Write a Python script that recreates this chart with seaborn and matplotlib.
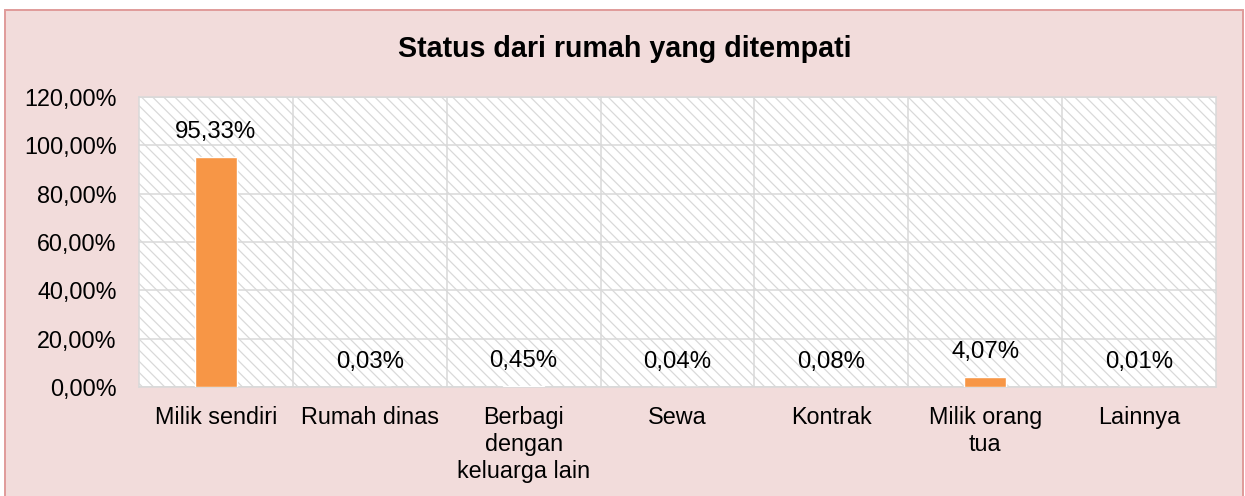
import matplotlib
matplotlib.use("Agg")
import matplotlib.pyplot as plt
import seaborn as sns
import pandas as pd
from matplotlib.patches import Rectangle

categories = ["Milik sendiri", "Rumah dinas", "Berbagi\ndengan\nkeluarga lain",
              "Sewa", "Kontrak", "Milik orang\ntua", "Lainnya"]
values = [95.33, 0.03, 0.45, 0.04, 0.08, 4.07, 0.01]  # percent
yticks = [0, 20, 40, 60, 80, 100, 120]
title = "Status dari rumah yang ditempati"

sns.set_theme(style="white")
plt.rcParams['font.family'] = ['Liberation Sans', 'DejaVu Sans']
plt.rcParams['hatch.color'] = '#D9D9D9'
plt.rcParams['hatch.linewidth'] = 0.9

W, H = 1245, 496
fig = plt.figure(figsize=(W / 100, H / 100), dpi=100)
fig.patch.set_facecolor('white')

# Figure background box with border
fig.patches.append(Rectangle((5 / W, -0.02), (1243 - 5) / W, 1 - 10 / H + 0.02,
                             transform=fig.transFigure, facecolor='#F2DCDB',
                             edgecolor='#E09B9A', linewidth=1.4, zorder=-10))

ax = fig.add_axes([139 / W, 1 - 387 / H, (1216 - 139) / W, (387 - 97) / H])
ax.set_zorder(1)
ax.set_facecolor('white')
ax.add_patch(Rectangle((0, 0), 1, 1, transform=ax.transAxes, facecolor='white',
                       edgecolor='#D9D9D9', hatch='\\\\\\', linewidth=0, zorder=0.1))

df = pd.DataFrame({"Kategori": categories, "Persen": [v / 100 for v in values]})
sns.barplot(data=df, x="Kategori", y="Persen", color='#F79646', saturation=1,
            width=0.27, ax=ax, zorder=3)

ax.set_ylim(0, 1.2)
ax.set_xlim(-0.5, len(categories) - 0.5)
ax.set_yticks([t / 100 for t in yticks])
ax.set_yticklabels([f"{t:.2f}%".replace('.', ',') for t in yticks])
ax.set_xlabel("")
ax.set_ylabel("")
ax.tick_params(axis='both', length=0, labelsize=16.8, colors='black')
ax.tick_params(axis='y', pad=16)
ax.tick_params(axis='x', pad=14)

# gridlines
ax.set_axisbelow(True)
ax.yaxis.grid(True, color='#D9D9D9', linewidth=1.1, zorder=0.5)
for xb in [i + 0.5 for i in range(len(categories) - 1)]:
    ax.axvline(xb, color='#D9D9D9', linewidth=1.1, zorder=0.5)
for s in ax.spines.values():
    s.set_color('#D9D9D9')
    s.set_linewidth(1.1)

for i, v in enumerate(values):
    ax.annotate(f"{v:.2f}%".replace('.', ','), xy=(i, v / 100), xytext=(0, 18),
                textcoords='offset points', ha='center', va='center',
                fontsize=17.3, color='black', zorder=4)

fig.text(625 / W, 1 - 57 / H, title, ha='center', va='baseline',
         fontsize=20.6, fontweight='bold', color='black')

fig.savefig("out.png", dpi=100, facecolor=fig.get_facecolor())
